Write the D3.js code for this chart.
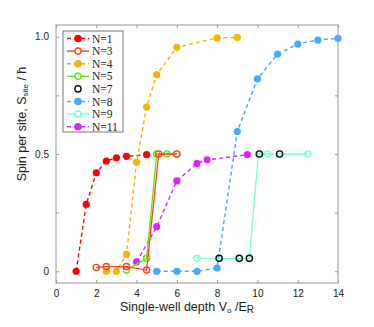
<!DOCTYPE html>
<html>
<head>
<meta charset="utf-8">
<script src="https://cdn.jsdelivr.net/npm/d3@7"></script>
<style>
  body { margin: 0; background: #fff; }
  svg { display: block; }
</style>
</head>
<body>
<svg id="chart" width="374" height="327"></svg>
<script>
// values
const xTicks = [0, 2, 4, 6, 8, 10, 12, 14];
const yTicks = [0, 0.25, 0.5, 0.75, 1.0];
const yTickLabels = { 0: "0", 0.5: "0.5", 1: "1.0" };

const n1 = [[1, 0], [1.5, 0.285], [2, 0.42], [2.5, 0.47], [3, 0.484], [3.5, 0.49], [4.5, 0.497]];
const n3 = [[2, 0.016], [2.5, 0.02], [3.5, 0.02], [4.5, 0.005], [5.1, 0.5], [6, 0.5]];
const n4 = [[2.5, 0], [3, 0], [3.5, 0.072], [4, 0.465], [4.5, 0.7], [5, 0.838], [6, 0.955], [8, 0.995], [9, 0.997]];
const n5 = [[3.5, 0.005], [4.5, 0.055], [5, 0.5], [5.5, 0.5], [6, 0.5]];
const n7 = [[8.1, 0.055], [9.1, 0.055], [9.6, 0.055], [10.1, 0.5], [11.1, 0.5]];
const n8 = [[5, 0], [6, 0], [7, 0], [8, 0.014], [9, 0.596], [10, 0.82], [11, 0.926], [12, 0.969], [13, 0.986], [14, 0.993]];
const n9 = [[7, 0.055], [8.1, 0.055], [9.1, 0.055], [9.6, 0.055], [10.05, 0.5], [10.5, 0.5], [11.1, 0.5], [12.5, 0.5]];
const n11 = [[4, 0.04], [5, 0.19], [6, 0.385], [7, 0.46], [7.5, 0.475], [9.5, 0.497]];

const series = [
    { name: "N=1", data: n1, color: "#ff0000", line: "dash", fill: true },
    { name: "N=3", data: n3, color: "#ff4422", line: "solid", fill: false },
    { name: "N=4", data: n4, color: "#f7b500", line: "dash", fill: true },
    { name: "N=5", data: n5, color: "#5fe800", line: "solid", fill: false },
    { name: "N=7", data: n7, color: "#111111", line: "none", fill: false },
    { name: "N=8", data: n8, color: "#44aaff", line: "dash", fill: true },
    { name: "N=9", data: n9, color: "#77ffd0", line: "solid", fill: false },
    { name: "N=11", data: n11, color: "#dd22ff", line: "dash", fill: true }
];

// draw order: keep N=7 on top of N=9
const drawOrder = ["N=1", "N=4", "N=11", "N=8", "N=5", "N=3", "N=9", "N=7"];

const svg = d3.select("#chart");
const plotL = 56, plotR = 338, plotT = 25, plotB = 283;

const x = d3.scaleLinear().domain([0, 14]).range([plotL, plotR]);
const y = d3.scaleLinear().domain([-0.05, 1.05]).range([plotB, plotT]);

const frame = "#999";

// frame
svg.append("rect")
    .attr("x", plotL).attr("y", plotT)
    .attr("width", plotR - plotL).attr("height", plotB - plotT)
    .attr("fill", "none").attr("stroke", frame).attr("stroke-width", 1);

// bottom axis
const xAxis = svg.append("g")
    .attr("transform", `translate(0, ${plotB})`)
    .call(d3.axisBottom(x).tickValues(xTicks).tickSize(-3).tickPadding(7).tickFormat(d3.format("d")));
// top ticks
const xTop = svg.append("g")
    .attr("transform", `translate(0, ${plotT})`)
    .call(d3.axisTop(x).tickValues(xTicks).tickSize(-3).tickFormat(""));
// left axis
const yAxis = svg.append("g")
    .attr("transform", `translate(${plotL}, 0)`)
    .call(d3.axisLeft(y).tickValues(yTicks).tickSize(-3).tickPadding(7)
        .tickFormat(d => yTickLabels[d] || ""));
// right ticks
const yRight = svg.append("g")
    .attr("transform", `translate(${plotR}, 0)`)
    .call(d3.axisRight(y).tickValues(yTicks).tickSize(-3).tickFormat(""));

[xAxis, xTop, yAxis, yRight].forEach(g => {
    g.select(".domain").remove();
    g.selectAll(".tick line").attr("stroke", frame);
    g.selectAll(".tick text")
        .attr("fill", "#222")
        .style("font-family", "Liberation Sans, Arial, sans-serif")
        .style("font-size", "10px");
});

// series
const line = d3.line().x(d => x(d[0])).y(d => y(d[1]));

const byName = new Map(series.map(s => [s.name, s]));
drawOrder.forEach(name => {
    const s = byName.get(name);
    const g = svg.append("g");
    if (s.line !== "none") {
        g.append("path")
            .datum(s.data)
            .attr("d", line)
            .attr("fill", "none")
            .attr("stroke", s.color)
            .attr("stroke-width", s.line === "dash" ? 1.4 : 1.3)
            .attr("stroke-dasharray", s.line === "dash" ? "4,3" : null);
    }
    g.selectAll("circle")
        .data(s.data)
        .join("circle")
        .attr("cx", d => x(d[0]))
        .attr("cy", d => y(d[1]))
        .attr("r", s.fill ? 3.6 : 3.1)
        .attr("fill", s.fill ? s.color : "#fff")
        .attr("fill-opacity", s.fill ? 1 : 0)
        .attr("stroke", s.color)
        .attr("stroke-width", s.fill ? 0 : 1.4);
});

// legend
const legend = svg.append("g");
const lgX = 63, lgY = 31, rowH = 12.6;
legend.append("rect")
    .attr("x", lgX).attr("y", lgY)
    .attr("width", 60).attr("height", 101)
    .attr("fill", "#fff").attr("stroke", "#555").attr("stroke-width", 0.8);

series.forEach((s, i) => {
    const cy = lgY + 7.5 + i * rowH;
    const row = legend.append("g");
    if (s.line !== "none") {
        row.append("line")
            .attr("x1", lgX + 4).attr("x2", lgX + 26)
            .attr("y1", cy).attr("y2", cy)
            .attr("stroke", s.color)
            .attr("stroke-width", 1.4)
            .attr("stroke-dasharray", s.line === "dash" ? "4,3" : null);
    }
    row.append("circle")
        .attr("cx", lgX + 15).attr("cy", cy)
        .attr("r", s.fill ? 3.8 : 3.1)
        .attr("fill", s.fill ? s.color : "#fff")
        .attr("stroke", s.color)
        .attr("stroke-width", s.fill ? 0 : 1.4);
    row.append("text")
        .attr("x", lgX + 29).attr("y", cy + 4)
        .attr("fill", "#222")
        .style("font-family", "Liberation Serif, Times New Roman, serif")
        .style("font-size", "11.5px")
        .text(s.name);
});

// axis titles
const xLabel = svg.append("text")
    .attr("x", 187).attr("y", 311)
    .attr("text-anchor", "middle")
    .attr("fill", "#222")
    .style("font-family", "Liberation Sans, Arial, sans-serif")
    .style("font-size", "12.5px");
xLabel.append("tspan").text("Single-well depth V");
xLabel.append("tspan").attr("font-size", "8px").attr("dy", 2).text("o");
xLabel.append("tspan").attr("dy", -2).text(" /E");
xLabel.append("tspan").attr("font-size", "10px").attr("dy", 2).text("R");

const yLabel = svg.append("text")
    .attr("transform", "translate(26, 124) rotate(-90)")
    .attr("text-anchor", "middle")
    .attr("fill", "#222")
    .style("font-family", "Liberation Sans, Arial, sans-serif")
    .style("font-size", "12.5px");
yLabel.append("tspan").text("Spin per site, S");
yLabel.append("tspan").attr("font-size", "8px").attr("dy", 2).text("site");
yLabel.append("tspan").attr("dy", -2).text("  / \u0127");
</script>
</body>
</html>
